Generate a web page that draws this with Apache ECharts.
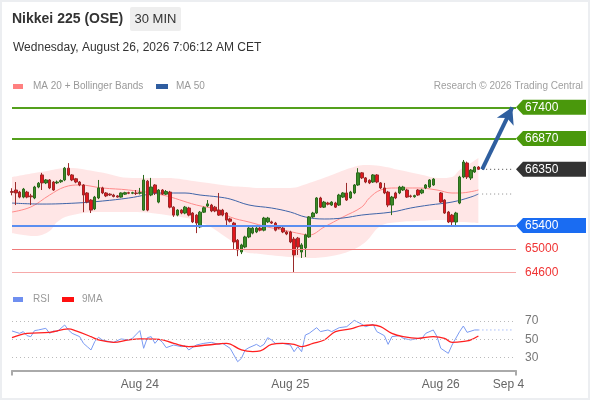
<!DOCTYPE html>
<html><head><meta charset="utf-8">
<script src="https://cdn.jsdelivr.net/npm/echarts@6/dist/echarts.min.js"></script>
<style>html,body{margin:0;padding:0;background:#fff;}#c{width:590px;height:400px;}</style>
</head><body><div id="c"></div>
<script>
// ---------- data ----------
const nCats = 135;
const categories = Array.from({length: nCats}, (_, i) => String(i));
const tickIndex = [34, 74, 114, 132];
const tickText = ['Aug 24', 'Aug 25', 'Aug 26', 'Sep 4'];

// [open, close, low, high]
const candles = [
[65975,65960,65910,66030],[66000,65950,65745,66135],[65965,65880,65860,65985],[65880,66015,65860,66035],
[65965,65880,65860,65985],[65900,65885,65745,65935],[65865,66050,65845,66070],[66050,66115,66030,66135],
[66255,66120,66000,66290],[66120,66170,66100,66185],[66170,66035,66015,66185],[66135,66000,65985,66150],
[66120,66135,66100,66160],[66140,66160,66120,66180],[66170,66370,66150,66390],[66370,66255,66235,66455],
[66255,66170,66150,66270],[66190,66135,66115,66205],[66135,66085,66065,66150],[66085,65915,65625,66100],
[65950,65795,65775,65965],[65830,65660,65610,65845],[65680,65880,65660,65900],[65865,66035,65845,66170],
[66035,65950,65930,66055],[65950,65900,65880,65965],[65930,65915,65900,65945],[65915,65890,65875,65935],
[65900,65880,65870,65915],[65880,65950,65870,65960],[65930,65955,65915,65970],[65955,65945,65930,65970],
[65945,65955,65930,65970],[65950,65940,65915,66000],[65945,65955,65925,66035],[65660,66170,65650,66255],
[66150,65660,65640,66170],[65915,66050,65895,66205],[66085,65950,65915,66100],[65795,66000,65775,66015],
[66000,65930,65915,66015],[65930,65975,65915,66000],[65965,65710,65690,65985],[65710,65575,65545,65725],
[65575,65660,65555,65675],[65660,65610,65590,65675],[65610,65710,65590,65730],[65695,65575,65555,65715],
[65610,65460,65440,65625],[65575,65440,65270,65590],[65375,65625,65355,65645],[65625,65700,65610,65720],
[65730,65765,65710,65830],[65745,65645,65625,65765],[65710,65645,65625,65730],[65660,65575,65560,65950],
[65660,65575,65555,65680],[65610,65490,65375,65625],[65510,65470,65450,65530],[65440,65120,64985,65460],
[65150,64985,64880,65170],[64950,65070,64915,65090],[65035,65205,65015,65225],[65205,65355,65185,65375],
[65270,65355,65250,65375],[65290,65355,65270,65375],[65355,65320,65300,65375],[65320,65525,65300,65545],
[65460,65525,65440,65545],[65460,65440,65425,65480],[65440,65320,65300,65460],[65375,65355,65335,65395],
[65355,65290,65270,65375],[65290,65255,65235,65310],[65289,65120,65100,65310],[65170,64900,64595,65205],
[65185,65035,64900,65205],[64950,65070,64850,65100],[65020,65240,64865,65260],[65205,65545,65190,65560],
[65545,65610,65530,65630],[65610,65865,65595,65880],[65865,65710,65695,65885],[65710,65795,65695,65815],
[65780,65760,65740,65800],[65745,65795,65730,65810],[65780,65710,65695,65800],[65745,65915,65730,65935],
[65880,65950,65865,65965],[65950,65830,65815,66120],[65865,65965,65850,65985],[65950,66085,65930,66100],
[66085,66290,66070,66370],[66290,66205,66185,66305],[66205,66135,66115,66220],[66165,66120,66100,66180],
[66135,66255,66120,66270],[66255,66135,66115,66270],[66120,66035,66015,66135],[66035,65950,65930,66120],
[65965,65745,65710,65985],[65745,65880,65575,65900],[65950,65865,65845,65970],[65950,66050,65930,66070],
[66000,66050,65985,66070],[66000,65880,65865,66020],[65900,65890,65870,65920],[65885,65905,65870,65920],
[66000,65915,65900,66015],[65950,66000,65930,66020],[66035,66085,66015,66100],[66050,66170,66035,66185],
[66085,66185,66070,66200],'-',[65950,65796,65780,65966],[65830,65610,65595,65845],
[65627,65458,65440,65645],[65576,65458,65407,65595],[65458,65610,65373,65630],[65779,66220,65760,66240],
[66220,66474,66200,66508],[66457,66220,66186,66480],[66203,66338,66169,66355],[66305,66389,66290,66405],
[66389,66350,66338,66405]
];

const ma20 = [[0,65627],[5,65712],[10,65915],[14,66051],[18,66085],[24,66034],[31,66000],[40,65915],[49,65746],[55,65661],[58,65543],[63,65458],[68,65373],[72,65323],[77,65255],[79,65238],[83,65373],[88,65543],[93,65712],[95,65864],[98,66000],[102,66034],[108,66034],[113,66000],[117,65949],[119,65949],[124,66000]];
const ma50 = [[0,65779],[8,65762],[17,65779],[24,65813],[31,65864],[40,65949],[46,65949],[50,65915],[55,65881],[58,65847],[63,65746],[69,65695],[74,65627],[78,65543],[83,65509],[88,65526],[93,65576],[101,65627],[106,65695],[111,65746],[117,65796],[122,65881],[124,65932]];

const bbIdx   = [0,6,10,12,15,23,32,41,50,58,62,66,74,79,85,90,94,98,103,108,114,117,119,122,124];
const bbUpper = [66220,66288,66330,66355,66372,66305,66203,66203,66135,66068,66051,66034,66034,66118,66254,66372,66423,66406,66338,66271,66203,66220,66338,66457,66542];
const bbLower = [65272,65221,65306,65458,65560,65627,65627,65576,65458,65153,64950,64916,64865,64848,64882,64970,65120,65390,65458,65475,65492,65475,65458,65450,65441];

const rsi = [[0,59.1],[2,56.5],[3,58.4],[4,54],[5,52.9],[6,59.5],[7,60.2],[9,62],[10,56.5],[11,59.1],[12,58.4],[14,65.6],[15,60.2],[16,56.5],[18,52.9],[19,45.6],[20,42],[21,38.4],[22,47.5],[23,52.2],[24,49.3],[25,48.2],[27,46.7],[29,50.4],[31,49.3],[32,51],[34,59.5],[35,40.2],[36,51.8],[37,52.9],[38,45.6],[39,50.4],[40,46.7],[41,40.9],[43,43.8],[45,42],[46,43.1],[47,38.4],[49,43.8],[51,45.6],[53,46.7],[55,44.5],[56,45.6],[58,40.2],[60,25.6],[61,29.3],[62,38.4],[63,40.9],[65,44.5],[66,42],[67,44.5],[68,51.8],[69,49.3],[70,45.6],[72,45.6],[74,43.8],[75,36.5],[76,42],[77,36.5],[78,54.7],[79,56.5],[81,62.7],[82,58.4],[84,60.2],[85,58.4],[87,62.7],[89,63.8],[91,70.7],[93,66.4],[94,63.8],[96,66.4],[97,58.4],[99,54],[100,44.5],[101,52.9],[103,54],[104,51.1],[106,49.3],[108,51.1],[109,51.1],[110,56.5],[112,60.2],[113,52.9],[114,40.2],[116,34.7],[117,43.8],[119,58.4],[120,64.5],[121,57.6],[123,60.2],[124,60.2]];
const rsiMa = [[0,51.8],[4,56.5],[10,57.6],[15,61.3],[17,59.1],[21,52.9],[23,49.3],[27,46.7],[31,49.3],[34,50.4],[39,50],[43,45.6],[47,42],[52,43.8],[57,45.6],[61,38.4],[64,36.5],[66,37.3],[69,44.5],[72,45.6],[75,44.5],[77,42],[80,45.6],[83,49.3],[86,58.4],[90,61.3],[93,64.9],[96,65.6],[98,63.8],[101,56.5],[104,52.9],[108,51.1],[112,52.9],[115,51.1],[117,46.7],[121,48.2],[122,49.3],[124,53.6]];
const rsiLevels = [70, 50, 30];

const lastPrice = 66350;
const ma50Last = 65932;
const rsiLast = 60.2;
const targetPrice = 67400;
const resistances = [67400, 66870];
const supportMain = 65400;
const supports = [65000, 64600];
const lastIdx = 124, projIdx = 133, arrowStart = 125;

// ---------- chart ----------
const FONT = '"Liberation Sans", Arial, sans-serif';
const GREEN = '#54a01c', BLUE = '#5b8ef0';
const lowerPairs = bbIdx.map((x, k) => [x, bbLower[k]]);
const widthPairs = bbIdx.map((x, k) => [x, bbUpper[k] - bbLower[k]]);

const option = {
  animation: false,
  textStyle: {fontFamily: FONT},
  grid: [
    {left: 12, right: 74, top: 101.4, height: 177.2},
    {left: 12, right: 74, top: 311.8, height: 58.7}
  ],
  xAxis: [
    {type: 'category', gridIndex: 0, data: categories, boundaryGap: false, show: false},
    {type: 'category', gridIndex: 1, data: categories, boundaryGap: false,
     axisLine: {lineStyle: {color: '#aaaaaa', width: 2}},
     axisTick: {show: true, interval: (i) => i === 0 || i === nCats - 1, length: 5, lineStyle: {color: '#aaaaaa', width: 2}},
     axisLabel: {interval: (i) => tickIndex.indexOf(i) >= 0, formatter: (v, i) => { const k = tickIndex.indexOf(i); return k >= 0 ? tickText[k] : ''; }, color: '#666', fontSize: 12, margin: 8},
     splitLine: {show: false}}
  ],
  yAxis: [
    {type: 'value', gridIndex: 0, min: 64500, max: 67500, show: false},
    {type: 'value', gridIndex: 1, min: 16, max: 80, show: false}
  ],
  series: [
    {type: 'line', name: 'bbLow', data: lowerPairs, stack: 'bb', smooth: 0.4, symbol: 'none', lineStyle: {opacity: 0}, z: 1, silent: true},
    {type: 'line', name: 'bbBand', data: widthPairs, stack: 'bb', smooth: 0.4, symbol: 'none', lineStyle: {opacity: 0}, areaStyle: {color: 'rgba(255,80,80,0.14)', opacity: 1}, z: 1, silent: true},
    {type: 'line', name: 'MA 20 + Bollinger Bands', data: ma20, smooth: 0.4, symbol: 'none', lineStyle: {color: '#ff8a8a', width: 1}, z: 2},
    {type: 'line', name: 'MA 50', data: ma50, smooth: 0.4, symbol: 'none', lineStyle: {color: '#3f64a8', width: 1}, z: 2},
    {type: 'candlestick', name: 'Nikkei', data: candles, barWidth: 3, z: 3,
     itemStyle: {color: '#3a8a26', color0: '#e3151c', borderColor: '#2c6a1d', borderColor0: '#9a2a2a', borderWidth: 1},
     markLine: {silent: true, symbol: 'none', label: {show: false},
       data: [
         {yAxis: resistances[0], lineStyle: {color: GREEN, width: 2, type: 'solid'}},
         {yAxis: resistances[1], lineStyle: {color: GREEN, width: 2, type: 'solid'}},
         {yAxis: supportMain, lineStyle: {color: BLUE, width: 2, type: 'solid'}},
         {yAxis: supports[0], lineStyle: {color: '#f07b7b', width: 1, type: 'solid'}},
         {yAxis: supports[1], lineStyle: {color: '#f6a9a9', width: 1, type: 'solid'}}
       ]}},
    {type: 'line', name: 'lastDots', data: [[arrowStart, lastPrice], [projIdx, lastPrice]], symbol: 'none', lineStyle: {color: '#444', width: 1, type: [1, 3]}, z: 2,
     markLine: {silent: true, symbol: ['none', 'arrow'], symbolSize: [14, 16], label: {show: false},
       lineStyle: {color: '#2f5f9f', width: 4, type: 'solid'},
       data: [[{coord: [String(arrowStart), lastPrice]}, {coord: [String(projIdx), targetPrice]}]]}},
    {type: 'line', name: 'maDots', data: [[arrowStart, ma50Last], [projIdx, ma50Last]], symbol: 'none', lineStyle: {color: '#888', width: 1, type: [1, 3]}, z: 2},
    {type: 'line', name: 'RSI', xAxisIndex: 1, yAxisIndex: 1, data: rsi, symbol: 'none', lineStyle: {color: '#7a9af2', width: 1}, z: 3,
     markLine: {silent: true, symbol: 'none', lineStyle: {color: '#bbbbbb', width: 1, type: [1, 3]},
       label: {show: true, position: 'end', color: '#777', fontSize: 12, distance: 9, formatter: (p) => String(p.value)},
       data: rsiLevels.map(v => ({yAxis: v}))}},
    {type: 'line', name: '9MA', xAxisIndex: 1, yAxisIndex: 1, data: rsiMa, smooth: 0.4, symbol: 'none', lineStyle: {color: '#ff2020', width: 1.3}, z: 4},
    {type: 'line', name: 'rsiDots', xAxisIndex: 1, yAxisIndex: 1, data: [[lastIdx, rsiLast], [projIdx, rsiLast]], symbol: 'none', lineStyle: {color: '#7a9af2', width: 1, type: [1, 3]}, z: 3}
  ]
};

const chart = echarts.init(document.getElementById('c'));
chart.setOption(option);

// ---------- annotations: header, legends, level tags ----------
const yp = (v) => chart.convertToPixel({yAxisIndex: 0}, v);
const tagX = 516, tagR = 586, tagH = 15;
const tags = [
  {v: resistances[0], bg: '#4a980c'},
  {v: resistances[1], bg: '#4a980c'},
  {v: lastPrice, bg: '#333333'},
  {v: supportMain, bg: '#1a6cf2'}
];
const g = [
  {type: 'rect', shape: {x: 1, y: 1, width: 588, height: 398}, style: {fill: 'none', stroke: '#eceef1', lineWidth: 2}, silent: true},
  {type: 'text', style: {text: 'Nikkei 225 (OSE)', x: 12, y: 19, verticalAlign: 'middle', font: 'bold 14px ' + FONT, fill: '#333'}},
  {type: 'rect', shape: {x: 130, y: 7, width: 51, height: 24, r: 2}, style: {fill: '#eeeeee'}},
  {type: 'text', style: {text: '30 MIN', x: 155.5, y: 19, align: 'center', verticalAlign: 'middle', font: '13px ' + FONT, fill: '#333'}},
  {type: 'text', style: {text: 'Wednesday, August 26, 2026 7:06:12 AM CET', x: 13, y: 48, verticalAlign: 'middle', font: '12px ' + FONT, fill: '#333'}},
  {type: 'rect', shape: {x: 13, y: 84, width: 10, height: 5}, style: {fill: '#ff8080'}},
  {type: 'text', style: {text: 'MA 20 + Bollinger Bands', x: 33, y: 86.5, verticalAlign: 'middle', font: '10px ' + FONT, fill: '#999'}},
  {type: 'rect', shape: {x: 156, y: 84, width: 12, height: 5}, style: {fill: '#2f5da0'}},
  {type: 'text', style: {text: 'MA 50', x: 176, y: 86.5, verticalAlign: 'middle', font: '10px ' + FONT, fill: '#999'}},
  {type: 'text', style: {text: 'Research \u00a9 2026 Trading Central', x: 583, y: 86.5, align: 'right', verticalAlign: 'middle', font: '10px ' + FONT, fill: '#a0a0a0'}},
  {type: 'rect', shape: {x: 13, y: 297, width: 10, height: 5}, style: {fill: '#6f8ff0'}},
  {type: 'text', style: {text: 'RSI', x: 33, y: 299.5, verticalAlign: 'middle', font: '10px ' + FONT, fill: '#999'}},
  {type: 'rect', shape: {x: 62, y: 297, width: 12, height: 5}, style: {fill: '#ff1010'}},
  {type: 'text', style: {text: '9MA', x: 82, y: 299.5, verticalAlign: 'middle', font: '10px ' + FONT, fill: '#999'}}
];
tags.forEach(t => {
  const y = yp(t.v);
  g.push({type: 'polygon', shape: {points: [[tagX, y], [tagX + 7, y - tagH / 2], [tagR, y - tagH / 2], [tagR, y + tagH / 2], [tagX + 7, y + tagH / 2]]}, style: {fill: t.bg}});
  g.push({type: 'text', style: {text: String(t.v), x: tagX + 9, y: y, verticalAlign: 'middle', font: '12px ' + FONT, fill: '#fff'}});
});
supports.forEach(v => {
  g.push({type: 'text', style: {text: String(v), x: tagX + 9, y: yp(v), verticalAlign: 'middle', font: '12px ' + FONT, fill: '#f03434'}});
});
chart.setOption({graphic: g});
</script></body></html>
